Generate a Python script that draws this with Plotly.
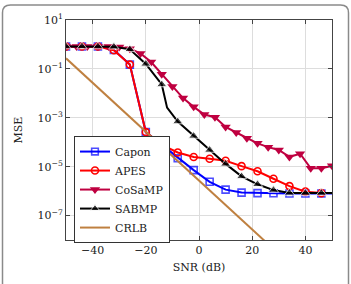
import plotly.graph_objects as go

# ---------------- data ----------------
capon_x = [-50, -44, -38, -32, -26, -20, -14, -8, -2, 4, 10, 16, 22, 28, 34, 40, 46, 50]
capon_y = [0.82, 0.82, 0.82, 0.6, 0.15, 2.6e-4, 7.8e-5, 2.2e-5, 7.2e-6, 2.4e-6, 1.15e-6,
           8.7e-7, 8.3e-7, 8.2e-7, 8.0e-7, 8.0e-7, 8.0e-7, 8.0e-7]
capon_mark = [1] * 17 + [0]

apes_x = [-50, -44, -38, -32, -26, -20, -14, -8, -2, 4, 10, 16, 22, 28, 34, 40, 46]
apes_y = [0.82, 0.82, 0.82, 0.58, 0.15, 2.6e-4, 7.8e-5, 3.8e-5, 2.5e-5, 2.1e-5, 1.75e-5,
          1.05e-5, 6.5e-6, 3.2e-6, 1.6e-6, 9.5e-7, 8.3e-7]

cosamp_x = [-50, -46, -42, -38, -34, -30, -26, -22, -18, -14, -10, -6, -2, 2, 6, 10,
            14, 18, 22, 26, 30, 34, 38, 42, 46, 50]
cosamp_y = [0.82, 0.82, 0.82, 0.82, 0.82, 0.78, 0.67, 0.43, 0.19, 0.06, 0.019, 6.4e-3,
            2.8e-3, 1.35e-3, 1.05e-3, 4.2e-4, 2.5e-4, 1.45e-4, 9.0e-5, 6.3e-5, 4.8e-5,
            2.5e-5, 3.4e-5, 8.6e-6, 8.6e-6, 1.08e-5]

sabmp_x = [-50, -44, -38, -32, -26, -20, -14, -12, -8, -2, 4, 10, 16, 22, 28, 34, 40, 46, 50]
sabmp_y = [0.82, 0.82, 0.82, 0.8, 0.63, 0.16, 0.023, 2.6e-3, 7.0e-4, 1.8e-4, 4.8e-5,
           1.3e-5, 4.0e-6, 1.9e-6, 1.1e-6, 8.4e-7, 8.3e-7, 8.3e-7, 8.3e-7]
sabmp_mark = [1] * 7 + [0] + [1] * 10 + [0]

crlb_x = [-50, 50]
crlb_y = [0.27, 2.7e-11]

x_ticks = [-40, -20, 0, 20, 40]
y_ticks = [1e-7, 1e-5, 1e-3, 1e-1, 1e1]
y_ticktext = ["10<sup>\u22127</sup>", "10<sup>\u22125</sup>", "10<sup>\u22123</sup>",
              "10<sup>\u22121</sup>", "10<sup>1</sup>"]

# ---------------- figure ----------------
FONT = "DejaVu Serif"
fig = go.Figure()

fig.add_trace(go.Scatter(
    x=capon_x, y=capon_y, name="Capon", mode="lines+markers",
    line=dict(color="#0000FF", width=2),
    marker=dict(symbol="square-open", size=[7 * m for m in capon_mark],
                color="#0000FF", line=dict(width=1.6, color="#0000FF"))))
fig.add_trace(go.Scatter(
    x=apes_x, y=apes_y, name="APES", mode="lines+markers",
    line=dict(color="#FF0000", width=2),
    marker=dict(symbol="circle-open", size=7, color="#FF0000",
                line=dict(width=1.6, color="#FF0000"))))
fig.add_trace(go.Scatter(
    x=cosamp_x, y=cosamp_y, name="CoSaMP", mode="lines+markers",
    line=dict(color="#BF0040", width=2),
    marker=dict(symbol="triangle-down", size=9, color="#BF0040")))
fig.add_trace(go.Scatter(
    x=sabmp_x, y=sabmp_y, name="SABMP", mode="lines+markers",
    line=dict(color="#000000", width=2),
    marker=dict(symbol="triangle-up", size=[9 * m for m in sabmp_mark], color="#000000")))
fig.add_trace(go.Scatter(
    x=crlb_x, y=crlb_y, name="CRLB", mode="lines",
    line=dict(color="#BF8040", width=2)))

# outer rounded frame (paper coords; plot area spans x 66..332, y 20..249 px)
def px(xp):
    return (xp - 66) / 266.0

def py(yp):
    return (249 - yp) / 229.0

L, R, T, B = px(2.5), px(348.5), py(4.5), py(300)
rx, ry = 8 / 266.0, 8 / 229.0
path = (f"M {L},{B} L {L},{T - ry} Q {L},{T} {L + rx},{T} "
        f"L {R - rx},{T} Q {R},{T} {R},{T - ry} L {R},{B}")

fig.update_layout(
    width=351, height=284,
    margin=dict(l=66, r=19, t=20, b=35),
    paper_bgcolor="white", plot_bgcolor="white",
    font=dict(family=FONT, size=11, color="#222222"),
    showlegend=True,
    legend=dict(x=0.03, y=py(196.5), xanchor="left", yanchor="middle",
                bgcolor="white", bordercolor="#333333", borderwidth=1,
                font=dict(family=FONT, size=11, color="#222222"),
                tracegroupgap=0, itemwidth=30),
    shapes=[dict(type="path", xref="paper", yref="paper", path=path,
                 line=dict(color="#8a8a8a", width=1.5), layer="above")],
    xaxis=dict(range=[-50, 50], tickvals=x_ticks,
               ticktext=["\u221240", "\u221220", "0", "20", "40"],
               showgrid=True, gridcolor="#dddddd", gridwidth=1,
               zeroline=False, showline=True, linecolor="#444444", linewidth=1,
               mirror="ticks", ticks="inside", ticklen=4, tickcolor="#444444",
               title=dict(text="SNR (dB)", standoff=7,
                          font=dict(family=FONT, size=11))),
    yaxis=dict(type="log", range=[-8, 1], tickvals=y_ticks, ticktext=y_ticktext,
               showgrid=True, gridcolor="#dddddd", gridwidth=1,
               zeroline=False, showline=True, linecolor="#444444", linewidth=1,
               mirror="ticks", ticks="inside", ticklen=4, tickcolor="#444444",
               title=dict(text="MSE", standoff=12,
                          font=dict(family=FONT, size=11))),
)

fig.write_html("out.html")
